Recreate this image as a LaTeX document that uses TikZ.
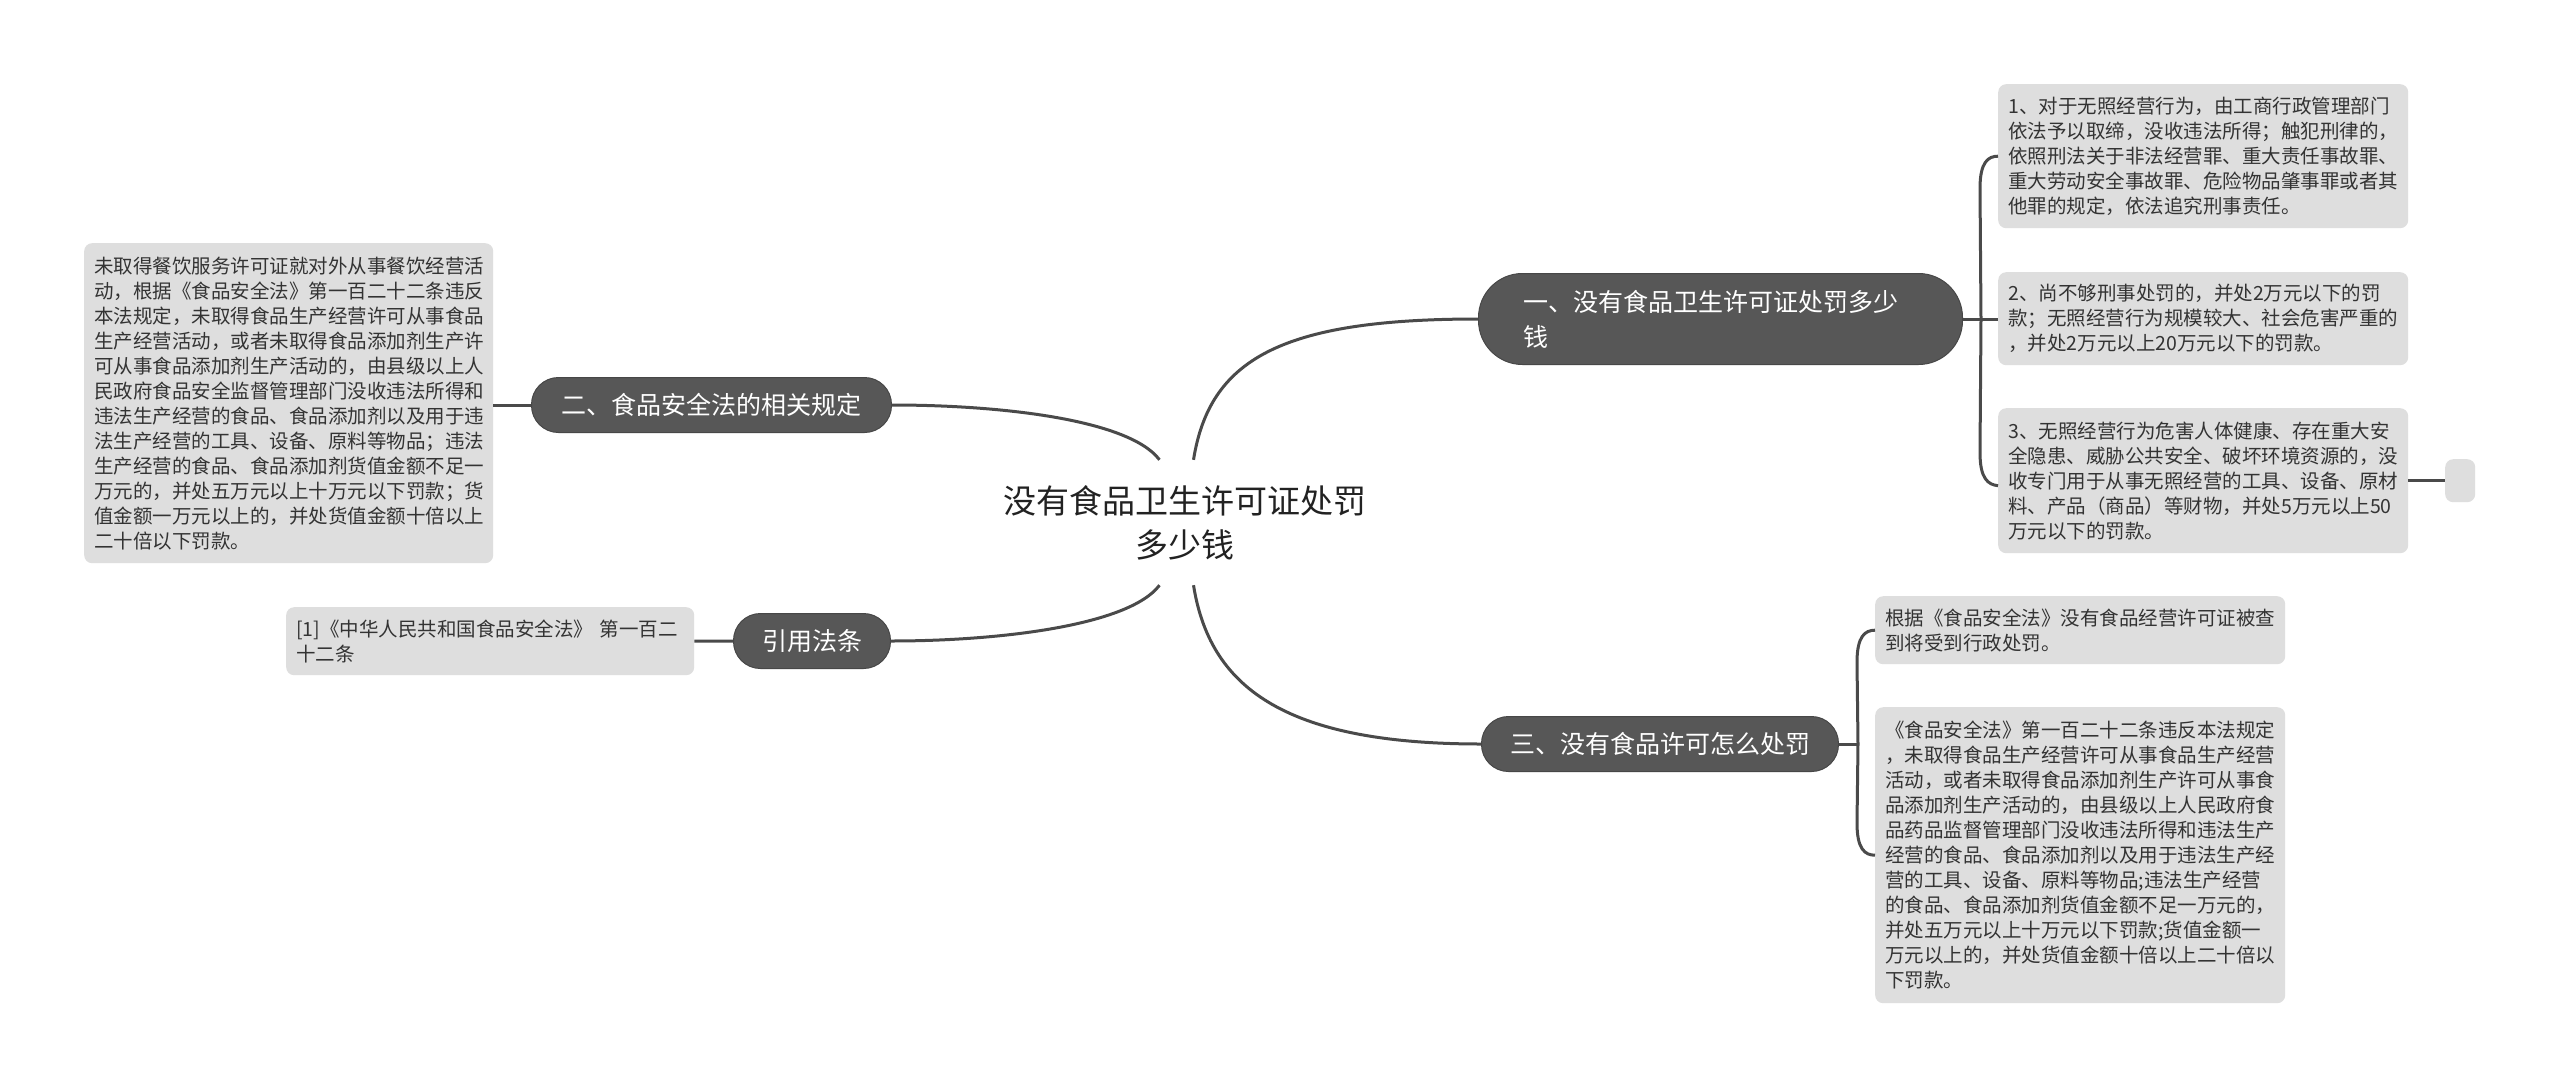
\documentclass[tikz,border=0pt]{standalone}
\usepackage{fontspec}
\setmainfont{Noto Sans CJK SC}
\usetikzlibrary{calc}
\definecolor{pillc}{HTML}{575757}
\definecolor{pilledge}{HTML}{474747}
\definecolor{leafc}{HTML}{DEDEDE}
\definecolor{leaftext}{HTML}{333333}
\definecolor{connc}{HTML}{4A4A4A}
\definecolor{ctrtext}{HTML}{222222}
\begin{document}
\begin{tikzpicture}[x=1pt,y=-1pt,
  conn/.style={draw=connc,line width=3pt},
  leafbox/.style={fill=leafc,rounded corners=8pt,anchor=north west,align=left,
    inner xsep=10pt,inner ysep=0pt,text=leaftext,font=\fontsize{19.5}{25}\selectfont},
  pillbox/.style={fill=pillc,draw=pilledge,line width=1pt,text=white,
    font=\fontsize{25}{35}\selectfont,anchor=north west,inner sep=0pt,
    minimum height=55pt,rounded corners=27pt,align=center},
  ctr/.style={text=ctrtext,font=\fontsize{33}{44}\selectfont,align=center,
    inner sep=0pt,minimum height=125pt,minimum width=370pt}
]
\fill[white] (0,0) rectangle (2560,1087);
\useasboundingbox (0,0) rectangle (2560,1087);

% central topic
\node[ctr] (ct) at (1184.5,522.5) {没有食品卫生许可证处罚\\多少钱};

% main branches
\node[pillbox,minimum width=484pt,minimum height=91pt,rounded corners=44pt,
  align=left,text width=394pt,inner xsep=45pt] (n1) at (1478,273)
  {一、没有食品卫生许可证处罚多少\\钱};
\node[pillbox,minimum width=360pt] (n2) at (531,377) {二、食品安全法的相关规定};
\node[pillbox,minimum width=157pt] (n4) at (733,613) {引用法条};
\node[pillbox,minimum width=357pt] (n3) at (1481,716) {三、没有食品许可怎么处罚};

% leaves, left
\node[leafbox,text width=389pt,minimum height=320pt] (l1) at (84,243)
{未取得餐饮服务许可证就对外从事餐饮经营活\\
动，根据《食品安全法》第一百二十二条违反\\
本法规定，未取得食品生产经营许可从事食品\\
生产经营活动，或者未取得食品添加剂生产许\\
可从事食品添加剂生产活动的，由县级以上人\\
民政府食品安全监督管理部门没收违法所得和\\
违法生产经营的食品、食品添加剂以及用于违\\
法生产经营的工具、设备、原料等物品；违法\\
生产经营的食品、食品添加剂货值金额不足一\\
万元的，并处五万元以上十万元以下罚款；货\\
值金额一万元以上的，并处货值金额十倍以上\\
二十倍以下罚款。};
\node[leafbox,text width=388pt,minimum height=68pt] (l2) at (286,607)
{[1]《中华人民共和国食品安全法》 第一百二\\
十二条};

% leaves, right of branch 1
\node[leafbox,text width=390pt,minimum height=144pt] (r1) at (1998,84)
{1、对于无照经营行为，由工商行政管理部门\\
依法予以取缔，没收违法所得；触犯刑律的，\\
依照刑法关于非法经营罪、重大责任事故罪、\\
重大劳动安全事故罪、危险物品肇事罪或者其\\
他罪的规定，依法追究刑事责任。};
\node[leafbox,text width=390pt,minimum height=93pt] (r2) at (1998,272)
{2、尚不够刑事处罚的，并处2万元以下的罚\\
款；无照经营行为规模较大、社会危害严重的\\
，并处2万元以上20万元以下的罚款。};
\node[leafbox,text width=390pt,minimum height=145pt] (r3) at (1998,408)
{3、无照经营行为危害人体健康、存在重大安\\
全隐患、威胁公共安全、破坏环境资源的，没\\
收专门用于从事无照经营的工具、设备、原材\\
料、产品（商品）等财物，并处5万元以上50\\
万元以下的罚款。};
\node[fill=leafc,rounded corners=8pt,anchor=north west,inner sep=0pt,
  minimum width=30pt,minimum height=43pt] (r3x) at (2445,459) {};

% leaves, right of branch 3
\node[leafbox,text width=390pt,minimum height=68pt] (r4) at (1875,596)
{根据《食品安全法》没有食品经营许可证被查\\
到将受到行政处罚。};
\node[leafbox,text width=390pt,minimum height=296pt] (r5) at (1875,707)
{《食品安全法》第一百二十二条违反本法规定\\
，未取得食品生产经营许可从事食品生产经营\\
活动，或者未取得食品添加剂生产许可从事食\\
品添加剂生产活动的，由县级以上人民政府食\\
品药品监督管理部门没收违法所得和违法生产\\
经营的食品、食品添加剂以及用于违法生产经\\
营的工具、设备、原料等物品;违法生产经营\\
的食品、食品添加剂货值金额不足一万元的，\\
并处五万元以上十万元以下罚款;货值金额一\\
万元以上的，并处货值金额十倍以上二十倍以\\
下罚款。};

% connectors from centre
\draw[conn] ($(ct.north)+(9,0)$) .. controls ($(ct.north)+(25,-100)$) and ($(n1.west)+(-198,0)$) .. (n1.west);
\draw[conn] ($(ct.south)+(9,0)$) .. controls ($(ct.south)+(25,100)$) and ($(n3.west)+(-200,0)$) .. (n3.west);
\draw[conn] ($(ct.north)+(-25,0)$) .. controls ($(ct.north)+(-55,-40)$) and ($(n2.east)+(110,0)$) .. (n2.east);
\draw[conn] ($(ct.south)+(-25,0)$) .. controls ($(ct.south)+(-55,40)$) and ($(n4.east)+(110,0)$) .. (n4.east);

% left leaves
\draw[conn] (l1.east |- n2.west) -- (n2.west);
\draw[conn] (l2.east) -- (n4.west);

% bracket of branch 1
\draw[conn] (n1.east) -- (r2.west |- n1.east);
\draw[conn] ($(n1.east)+(18,0)$) -- ($(r1.west)+(-18,32)$)
  .. controls ($(r1.west)+(-18,6)$) and ($(r1.west)+(-10,0)$) .. (r1.west);
\draw[conn] ($(n1.east)+(18,0)$) -- ($(r3.west)+(-18,-28)$)
  .. controls ($(r3.west)+(-18,-2)$) and ($(r3.west)+(-10,4)$) .. ($(r3.west)+(0,5)$);
\draw[conn] (r3.east) -- (r3x.west);

% bracket of branch 3
\draw[conn] (n3.east) -- ($(n3.east)+(19,0)$);
\draw[conn] ($(n3.east)+(19,0)$) -- ($(r4.west)+(-18,32)$)
  .. controls ($(r4.west)+(-18,6)$) and ($(r4.west)+(-10,0)$) .. (r4.west);
\draw[conn] ($(n3.east)+(19,0)$) -- ($(r5.west)+(-18,-32)$)
  .. controls ($(r5.west)+(-18,-6)$) and ($(r5.west)+(-10,0)$) .. (r5.west);
\end{tikzpicture}
\end{document}
